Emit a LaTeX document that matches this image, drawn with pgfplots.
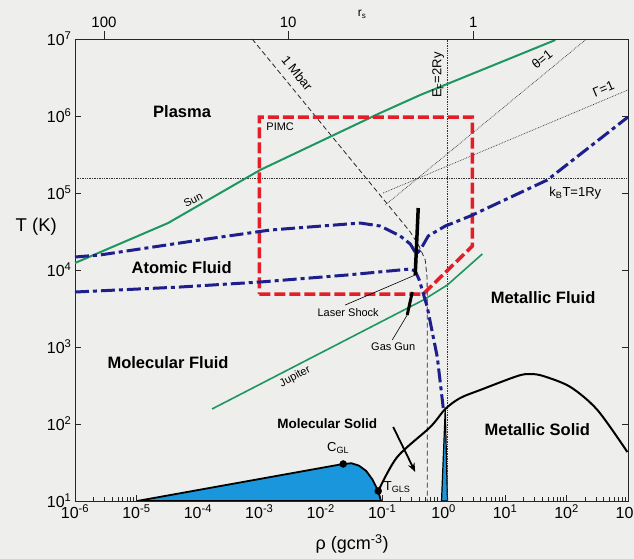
\documentclass[border=0pt]{standalone}
\usepackage{pgfplots}
\pgfplotsset{compat=1.18}
\usetikzlibrary{arrows.meta}
\usepackage{fontspec}
\setmainfont{Liberation Sans}
\definecolor{bg}{RGB}{238,238,236}
\definecolor{sungreen}{RGB}{30,150,95}
\definecolor{pimcred}{RGB}{228,30,40}
\definecolor{navy}{RGB}{30,30,140}
\definecolor{fillblue}{RGB}{25,150,220}
\def\minorlist{-6}
\foreach \d in {-6,...,2}{\foreach \m in {0.30103,0.47712,0.60206,0.69897,0.77815,0.84510,0.90309,0.95424}{\pgfmathsetmacro\v{\d+\m}\xdef\minorlist{\minorlist,\v}}}
\begin{document}
\begin{tikzpicture}[font=\fontsize{16}{18}\selectfont]
\fill[bg] (-75pt,-58pt) rectangle (559pt,501pt);
\begin{axis}[at={(0pt,0pt)}, anchor=south west, scale only axis,
  width=553pt, height=462pt,
  xmin=-6, xmax=3, ymin=1, ymax=7,
  xtick={-6,...,3},
  xticklabels={10\textsuperscript{-6},10\textsuperscript{-5},10\textsuperscript{-4},10\textsuperscript{-3},10\textsuperscript{-2},10\textsuperscript{-1},10\textsuperscript{0},10\textsuperscript{1},10\textsuperscript{2},10\textsuperscript{3}},
  minor xtick/.expanded={\minorlist},
  ytick={1,...,7},
  yticklabels={10\textsuperscript{1},10\textsuperscript{2},10\textsuperscript{3},10\textsuperscript{4},10\textsuperscript{5},10\textsuperscript{6},10\textsuperscript{7}},
  xtick pos=bottom, ytick pos=both, yticklabel pos=left,
  tick align=inside, major tick length=6pt, minor tick length=3.5pt,
  axis line style={line width=0.8pt, black!85},
  every tick/.style={black!85, line width=0.7pt},
  clip mode=individual,
  axis background/.style={fill=bg},
]
% gas-liquid coexistence
\addplot[fill=fillblue, draw=black, line width=1.8pt] coordinates {
 (-4.99,1.0) (-1.635,1.481) (-1.50,1.49) (-1.38,1.46) (-1.26,1.39) (-1.16,1.28) (-1.065,1.13) (-1.02,1.0)} -- cycle;
% narrow spike
\addplot[fill=fillblue, draw=black, line width=1.2pt] coordinates {(-0.035,1.0) (0.026,2.195) (0.062,1.0)} -- cycle;
% dotted reference lines
\addplot[black!80, densely dotted, line width=0.7pt] coordinates {(-6,5.195) (3,5.195)};
\addplot[black!80, densely dotted, line width=0.7pt] coordinates {(0.059,1) (0.059,7)};
\addplot[black!80, densely dotted, line width=0.7pt] coordinates {(-0.951,4.844) (2.306,6.987)};
\addplot[black!80, densely dotted, line width=0.7pt] coordinates {(-0.984,5.0) (3.0,6.338)};
% 1 Mbar
\addplot[black!85, dashed, line width=0.8pt, dash pattern=on 5pt off 3pt] coordinates {
 (-3.117,7.0) (-0.544,4.494) (-0.40,4.31) (-0.30,4.13) (-0.27,3.9) (-0.267,3.6) (-0.267,1.0)};
% Sun
\addplot[sungreen, line width=2pt] coordinates {
 (-6,4.091) (-4.485,4.610) (-2.987,5.299) (-1.033,6.039) (-0.381,6.273) (1.818,6.987)};
% Jupiter
\addplot[sungreen, line width=1.6pt] coordinates {
 (-3.769,2.195) (-0.332,3.610) (0.059,3.805) (0.629,4.208)};
% PIMC box
\addplot[pimcred, line width=3.5pt, dash pattern=on 11pt off 4pt] coordinates {
 (-3,3.688) (-0.332,3.688) (0.466,4.31) (0.466,5.987) (-3,5.987) (-3,3.688)};
% upper blue
\addplot[navy, line width=3pt, dash pattern=on 14pt off 4pt on 4pt off 4pt] coordinates {
 (-6,4.169) (-5.593,4.195) (-3.964,4.390) (-2.824,4.519) (-1.358,4.610) (-1.033,4.571) (-0.707,4.442) (-0.544,4.338) (-0.446,4.208) (-0.381,4.260) (-0.251,4.442) (0.026,4.571) (0.433,4.701) (1.687,5.169) (3.0,5.987)};
% lower blue
\addplot[navy, line width=3pt, dash pattern=on 14pt off 4pt on 4pt off 4pt] coordinates {
 (-6,3.714) (-4.290,3.779) (-2.987,3.844) (-1.570,3.935) (-0.544,4.013) (-0.463,3.987) (-0.397,3.870) (-0.267,3.519) (-0.104,2.870) (-0.007,2.208)};
% melting line
\addplot[black, line width=2pt, smooth, tension=0.5] coordinates {
 (-1.065,1.130) (-0.756,1.571) (-0.218,1.961) (0.026,2.195) (0.270,2.338) (0.596,2.442) (1.199,2.623) (1.410,2.649) (1.622,2.623) (2.062,2.481) (2.502,2.182) (2.990,1.636)};
% points
\addplot[only marks, mark=*, mark size=3.5pt, black] coordinates {(-1.635,1.481) (-1.065,1.130)};
% shocks
\addplot[black, line width=3.5pt] coordinates {(-0.414,4.805) (-0.463,3.935)};
\addplot[black, line width=3pt] coordinates {(-0.511,3.714) (-0.593,3.416)};
\addplot[black, line width=0.6pt] coordinates {(-1.603,3.545) (-0.463,3.935)};
\addplot[black, line width=0.6pt] coordinates {(-0.837,3.091) (-0.593,3.416)};
% arrow
\addplot[black, line width=1.8pt, -{Stealth[length=9pt,width=7pt]}] coordinates {(-0.821,1.961) (-0.463,1.377)};
% labels
\node[font=\fontsize{16.5}{18}\selectfont\bfseries] at (axis cs:-4.257,6.052) {Plasma};
\node[font=\fontsize{16.5}{18}\selectfont\bfseries, anchor=east] at (axis cs:-3.394,4.026) {Atomic Fluid};
\node[font=\fontsize{16.5}{18}\selectfont\bfseries, anchor=east] at (axis cs:-3.443,2.792) {Molecular Fluid};
\node[font=\fontsize{16.5}{18}\selectfont\bfseries, anchor=west] at (axis cs:0.710,3.636) {Metallic Fluid};
\node[font=\fontsize{16.5}{18}\selectfont\bfseries] at (axis cs:1.524,1.922) {Metallic Solid};
\node[font=\fontsize{13.5}{15}\selectfont\bfseries] at (axis cs:-1.896,2.0) {Molecular Solid};
\node[font=\fontsize{11}{12}\selectfont] at (axis cs:-2.661,5.857) {PIMC};
\node[font=\fontsize{11}{12}\selectfont, rotate=27] at (axis cs:-4.078,4.909) {Sun};
\node[font=\fontsize{11}{12}\selectfont, rotate=28] at (axis cs:-2.417,2.610) {Jupiter};
\node[font=\fontsize{13}{14}\selectfont, rotate=-51] at (axis cs:-2.384,6.558) {1 Mbar};
\node[font=\fontsize{13}{14}\selectfont, rotate=90] at (axis cs:-0.088,6.532) {E\textsubscript{F}=2Ry};
\node[font=\fontsize{13}{14}\selectfont, rotate=39] at (axis cs:1.60,6.74) {θ=1};
\node[font=\fontsize{13}{14}\selectfont, rotate=23] at (axis cs:2.60,6.35) {Γ=1};
\node[font=\fontsize{13}{14}\selectfont] at (axis cs:2.143,5.0) {k\textsubscript{B}T=1Ry};
\node[font=\fontsize{11}{12}\selectfont] at (axis cs:-1.554,3.442) {Laser Shock};
\node[font=\fontsize{11}{12}\selectfont] at (axis cs:-0.821,3.0) {Gas Gun};
\node[font=\fontsize{13}{14}\selectfont] at (axis cs:-1.717,1.688) {C\textsubscript{GL}};
\node[font=\fontsize{13}{14}\selectfont] at (axis cs:-0.756,1.182) {T\textsubscript{GLS}};
\node[font=\fontsize{18.5}{20}\selectfont] at (rel axis cs:-0.070,0.594) {T (K)};
\node[font=\fontsize{18}{20}\selectfont] at (rel axis cs:0.501,-0.093) {ρ (gcm\textsuperscript{-3})};
\node[font=\fontsize{12}{13}\selectfont] at (rel axis cs:0.519,1.054) {r\textsubscript{s}};
\end{axis}
\begin{axis}[at={(0pt,0pt)}, anchor=south west, scale only axis,
  width=553pt, height=462pt,
  xmin=-6, xmax=3, ymin=1, ymax=7,
  axis x line*=top, axis y line=none,
  xtick={-5.528,-2.531,0.482}, xticklabels={100,10,1},
  tick align=outside, major tick length=8pt,
  axis line style={line width=0.8pt, black!85},
  every tick/.style={black!85, line width=0.7pt},
  xticklabel style={font=\fontsize{15}{16}\selectfont},
]
\end{axis}
\pgfresetboundingbox
\path[use as bounding box] (-75pt,-58pt) rectangle (559pt,501pt);
\end{tikzpicture}
\end{document}
